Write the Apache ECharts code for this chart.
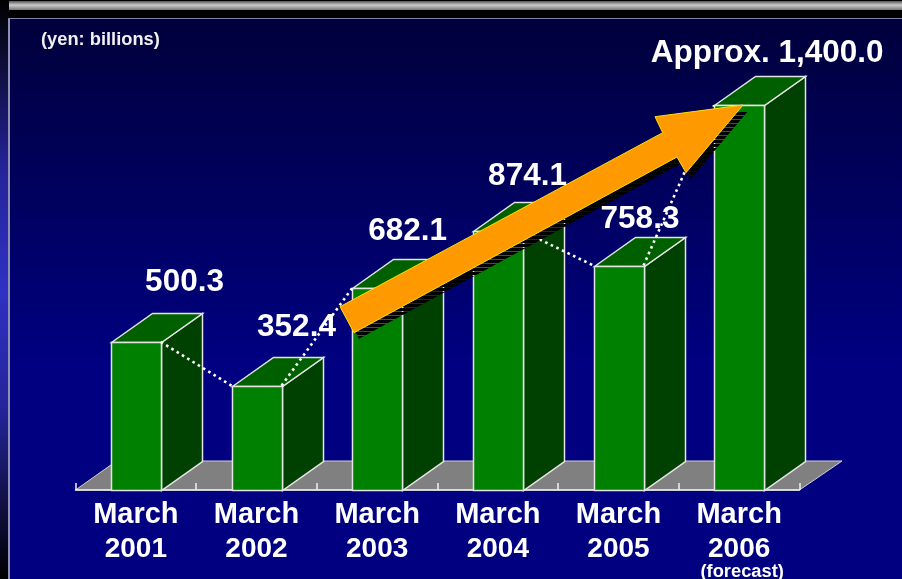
<!DOCTYPE html>
<html>
<head>
<meta charset="utf-8">
<title>chart</title>
<style>
  html, body { margin: 0; padding: 0; background: #000; overflow: hidden; }
  #wrap { position: relative; width: 902px; height: 579px; }
  #strip { position: absolute; left: 0; top: 0; width: 8px; height: 579px;
    background: linear-gradient(#000 0, #24249a 170px, #3030c4 290px, #24249a 410px, #000 579px); }
  #bar { position: absolute; left: 9px; right: 0; top: 1px; height: 9px;
    background: linear-gradient(#555, #ccc 45%, #777); }
  #panel { position: absolute; left: 8px; right: 0; top: 18px; bottom: 0; box-sizing: border-box;
    border-top: 1px solid #8080a8; border-left: 2px solid #9090b0;
    background: linear-gradient(#00003c 0, #000080 340px); }
  #main { position: absolute; left: 0; top: 0; width: 902px; height: 579px; }
</style>
</head>
<body>
<div id="wrap">
  <div id="strip"></div>
  <div id="bar"></div>
  <div id="panel"></div>
  <div id="main"></div>
</div>
<script src="https://cdn.jsdelivr.net/npm/echarts@6/dist/echarts.min.js"></script>
<script>
const categories = ['March\n2001', 'March\n2002', 'March\n2003', 'March\n2004', 'March\n2005', 'March\n2006'];
// the forecast bar is drawn shorter in the picture than its 1,400.0 label says
const barValues = [500.3, 352.4, 682.1, 874.1, 758.3, 1300];
const valueLabels = ['500.3', '352.4', '682.1', '874.1', '758.3', 'Approx. 1,400.0'];
const unitLabel = '(yen: billions)';
const forecastNote = '(forecast)';

// label placement relative to the top of each bar
const labelDx = [48.7, 40, 30.5, 29.7, 21.5, 28];
const labelDy = [51, 49.5, 48, 46, 37, 43];

const font = '"Liberation Sans", Arial, sans-serif';
const frontW = 50;
const depthX = 41;
const depthY = -29;
const edge = '#e4e4e4';

// arrow is an annotation on the slide, not data
const arrowPts = [[340, 306.7], [354, 332.7], [677, 157], [686, 172.7], [743, 105], [655, 116.7], [662.7, 132.7]];

function hatch() {
  const c = document.createElement('canvas');
  c.width = 4;
  c.height = 4;
  const ctx = c.getContext('2d');
  ctx.fillStyle = '#000';
  ctx.fillRect(0, 0, 4, 3);
  return c;
}

function renderFloor(params) {
  const r = params.coordSys;
  const y0 = r.y + r.height;
  return {
    type: 'polygon',
    shape: { points: [[r.x, y0], [r.x + depthX, y0 + depthY], [r.x + r.width + depthX + 1.5, y0 + depthY], [r.x + r.width, y0]] },
    style: { fill: '#808080', stroke: '#d0d0d0', lineWidth: 1 }
  };
}

function renderBar(params, api) {
  const top = api.coord([api.value(0), api.value(1)]);
  const base = api.coord([api.value(0), 0]);
  const l = Math.round(top[0] - frontW / 2) + 0.5;
  const r = l + frontW;
  const t = Math.round(top[1]) + 0.5;
  const b = Math.round(base[1]) + 0.5;
  const line = { stroke: edge, lineWidth: 1.5, lineJoin: 'miter' };
  return {
    type: 'group',
    children: [
      { type: 'polygon', shape: { points: [[r, t], [r + depthX, t + depthY], [r + depthX, b + depthY], [r, b]] },
        style: Object.assign({ fill: '#004000' }, line) },
      { type: 'polygon', shape: { points: [[l, t], [l + depthX, t + depthY], [r + depthX, t + depthY], [r, t]] },
        style: Object.assign({ fill: '#006000' }, line) },
      { type: 'rect', shape: { x: l, y: t, width: frontW, height: b - t },
        style: Object.assign({ fill: '#008000' }, line) }
    ]
  };
}

function renderDots(params, api) {
  const i = api.value(0);
  // 2003 -> 2004 runs behind the arrow in the picture
  if (i >= barValues.length - 1 || i === 2) return null;
  const a = api.coord([i, barValues[i]]);
  const b = api.coord([i + 1, barValues[i + 1]]);
  return {
    type: 'line',
    shape: { x1: a[0] + frontW / 2, y1: a[1], x2: b[0] - frontW / 2, y2: b[1] },
    style: { stroke: '#fff', lineWidth: 2.6, lineDash: [2.6, 3.6] }
  };
}

function renderLabel(params, api) {
  const i = api.value(0);
  const p = api.coord([i, barValues[i]]);
  return {
    type: 'text',
    style: {
      x: p[0] + labelDx[i],
      y: p[1] - labelDy[i] + 7,
      text: valueLabels[i],
      fill: '#fff',
      font: 'bold 31.5px ' + font,
      align: 'center',
      verticalAlign: 'bottom'
    }
  };
}

function renderArrow() {
  return {
    type: 'group',
    children: [
      { type: 'polygon', shape: { points: arrowPts.map(p => [p[0] + 5, p[1] + 6]) },
        style: { fill: { image: hatch(), repeat: 'repeat' } } },
      { type: 'polygon', shape: { points: arrowPts },
        style: { fill: '#ff9900', stroke: '#ffe000', lineWidth: 1 } }
    ]
  };
}

const idx = categories.map((x, i) => i);
const barData = barValues.map((v, i) => [i, v]);

const option = {
  animation: false,
  grid: { left: 75.5, right: 102.5, top: 46, bottom: 89, outerBoundsMode: 'none' },
  graphic: [{
    type: 'text',
    left: 41,
    top: 31,
    style: { text: unitLabel, fill: '#f0f0f0', font: 'bold 18.3px ' + font }
  }],
  xAxis: {
    type: 'category',
    data: categories,
    z: 2,
    axisLine: { lineStyle: { color: '#f0f0f0', width: 1.5 } },
    axisTick: { show: true, inside: true, length: 7, lineStyle: { color: '#f0f0f0', width: 1.5 } },
    axisLabel: {
      interval: 0,
      margin: 8,
      formatter: function (value, i) {
        const parts = value.split('\n');
        let s = '{m|' + parts[0] + '}\n{y|' + parts[1] + '}';
        if (i === categories.length - 1) s += '\n{f|' + forecastNote + '}';
        return s;
      },
      rich: {
        m: { fontFamily: font, fontWeight: 'bold', fontSize: 29, lineHeight: 34, color: '#fff' },
        y: { fontFamily: font, fontWeight: 'bold', fontSize: 28, lineHeight: 34, color: '#fff' },
        f: { fontFamily: font, fontWeight: 'bold', fontSize: 18.3, lineHeight: 11, color: '#fff', padding: [0, 0, 0, 6] }
      }
    }
  },
  yAxis: { type: 'value', min: 0, max: 1500, show: false },
  series: [
    { type: 'custom', name: 'floor', z: 1, silent: true, renderItem: renderFloor, data: [0] },
    { type: 'custom', name: 'bars', z: 3, silent: true, renderItem: renderBar, encode: { x: 0, y: 1 }, data: barData },
    { type: 'custom', name: 'dots', z: 4, silent: true, renderItem: renderDots, data: idx.map(i => [i]) },
    { type: 'custom', name: 'arrow', z: 5, silent: true, renderItem: renderArrow, data: [0] },
    { type: 'custom', name: 'labels', z: 6, silent: true, renderItem: renderLabel, data: idx.map(i => [i]) }
  ]
};

const myChart = echarts.init(document.getElementById('main'), null, { renderer: 'canvas' });
myChart.setOption(option);
</script>
</body>
</html>
